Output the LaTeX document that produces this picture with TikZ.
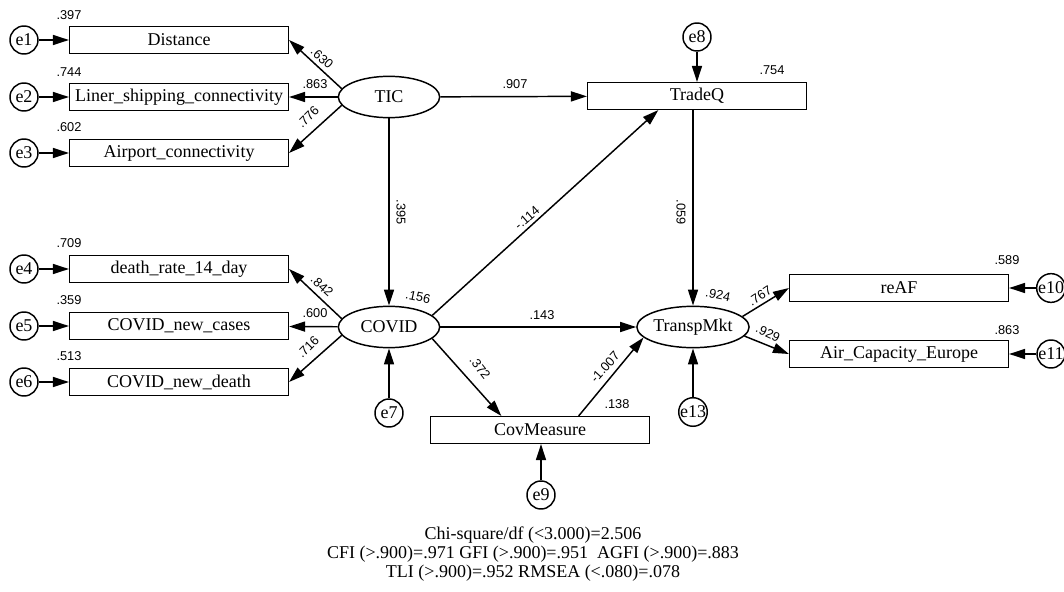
\documentclass[tikz,border=0pt]{standalone}
\usepackage{fontspec}
\setmainfont{Liberation Serif}
\newfontfamily\numfont{Liberation Sans}
\usetikzlibrary{arrows.meta,shapes.geometric}
\begin{document}
\begin{tikzpicture}[x=0.75pt,y=-0.75pt,
  every node/.style={inner sep=0pt},
  txt/.style={font=\fontsize{13.5}{14}\selectfont},
  obs/.style={draw, line width=1.1pt, minimum width=164pt, minimum height=20pt, txt},
  lat/.style={draw, ellipse, line width=1.1pt, minimum width=76pt, minimum height=31pt, txt},
  err/.style={draw, circle, line width=1.1pt, minimum size=21pt, txt},
  arr/.style={line width=1.1pt, -{Triangle[length=12pt,width=7.5pt]}},
  est/.style={font=\numfont\fontsize{9.6}{10}\selectfont},
]
\useasboundingbox (0,0) rectangle (1064,592);
\fill[white] (0,0) rectangle (1064,592);

% indicators of TIC
\node[err] (e1) at (24,40) {e1};
\node[obs] (Distance) at (179,40) {Distance};
\node[err] (e2) at (24,97) {e2};
\node[obs] (Liner) at (179,97) {Liner\_shipping\_connectivity};
\node[err] (e3) at (24,153) {e3};
\node[obs] (Airport) at (179,153) {Airport\_connectivity};

% indicators of COVID
\node[err] (e4) at (24,269) {e4};
\node[obs] (deathrate) at (179,269) {death\_rate\_14\_day};
\node[err] (e5) at (24,326) {e5};
\node[obs] (newcases) at (179,326) {COVID\_new\_cases};
\node[err] (e6) at (24,382) {e6};
\node[obs] (newdeath) at (179,382) {COVID\_new\_death};

% latent variables
\node[lat] (TIC) at (389,97) {TIC};
\node[lat] (COVID) at (389,327) {COVID};
\node[lat] (TranspMkt) at (693,327) {TranspMkt};

% other observed
\node[obs] (TradeQ) at (697,96) {TradeQ};
\node[obs] (CovMeasure) at (540,430) {CovMeasure};
\node[obs] (reAF) at (899,288) {reAF};
\node[obs] (Air) at (899,354) {Air\_Capacity\_Europe};

% errors
\node[err] (e7) at (389,413) {e7};
\node[err] (e8) at (697,37) {e8};
\node[err] (e9) at (541,495) {e9};
\node[err] (e10) at (1051,288) {e10};
\node[err] (e11) at (1051,354) {e11};
\node[err] (e13) at (693,412) {e13};

% error arrows
\draw[arr] (e1) -- (Distance);
\draw[arr] (e2) -- (Liner);
\draw[arr] (e3) -- (Airport);
\draw[arr] (e4) -- (deathrate);
\draw[arr] (e5) -- (newcases);
\draw[arr] (e6) -- (newdeath);
\draw[arr] (e7) -- (COVID);
\draw[arr] (e8) -- (TradeQ);
\draw[arr] (e9) -- (e9 |- CovMeasure.south);
\draw[arr] (e10) -- (reAF);
\draw[arr] (e11) -- (Air);
\draw[arr] (e13) -- (TranspMkt);

% loadings
\draw[arr] (TIC.170) -- (Distance.east);
\draw[arr] (TIC) -- (Liner);
\draw[arr] (TIC.190) -- (Airport.east);
\draw[arr] (COVID.170) -- (deathrate.east);
\draw[arr] (COVID) -- (newcases);
\draw[arr] (COVID.190) -- (newdeath.east);
\draw[arr] (TranspMkt.12) -- (reAF.west);
\draw[arr] (TranspMkt.-10) -- (Air.west);

% structural paths
\draw[arr] (TIC) -- (TradeQ);
\draw[arr] (TIC) -- (COVID);
\draw[arr] (COVID.15) -- (TradeQ.200);
\draw[arr] (COVID) -- (TranspMkt);
\draw[arr] (COVID.-15) -- (CovMeasure.160);
\draw[arr] (CovMeasure.20) -- (TranspMkt.192);
\draw[arr] (TranspMkt |- TradeQ.south) -- (TranspMkt.north);

% estimates
\node[est] at (69,15) {.397};
\node[est] at (69,72) {.744};
\node[est] at (69,127) {.602};
\node[est] at (69,243) {.709};
\node[est] at (69,300) {.359};
\node[est] at (69,356) {.513};
\node[est, rotate=-42] at (322,58) {.630};
\node[est] at (315,84) {.863};
\node[est, rotate=45] at (308,117) {.776};
\node[est, rotate=-42] at (322,286) {.842};
\node[est] at (315,313) {.600};
\node[est, rotate=45] at (308,347) {.716};
\node[est] at (515,84) {.907};
\node[est] at (772,70) {.754};
\node[est, rotate=-90] at (401,212) {.395};
\node[est, rotate=-90] at (681,212) {.059};
\node[est, rotate=41] at (527,218) {-.114};
\node[est, rotate=-12] at (418,297) {.156};
\node[est] at (542,315) {.143};
\node[est, rotate=-12] at (718,295) {.924};
\node[est, rotate=33] at (760,296) {.767};
\node[est, rotate=-25] at (768,333) {.929};
\node[est, rotate=-52] at (480,368) {.372};
\node[est, rotate=48] at (605,367) {-1.007};
\node[est] at (617,404) {.138};
\node[est] at (1007,260) {.589};
\node[est] at (1007,330) {.863};

% fit indices
\node[align=center, font=\fontsize{13.5}{14.25}\selectfont] (fit) at (533,554)
  {Chi-square/df (<3.000)=2.506\\
   CFI (>.900)=.971 GFI (>.900)=.951\ \ AGFI (>.900)=.883\\
   TLI (>.900)=.952 RMSEA (<.080)=.078};
\end{tikzpicture}
\end{document}
